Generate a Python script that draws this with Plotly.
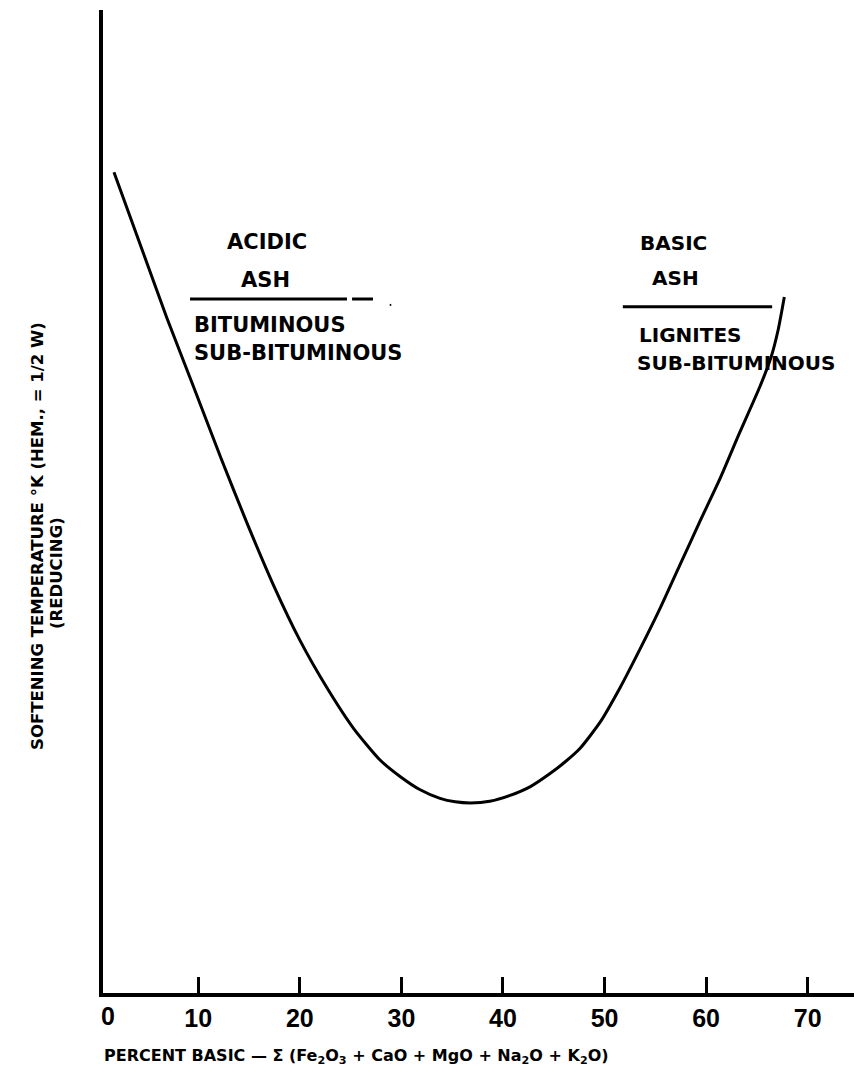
import plotly.graph_objects as go

# Ash softening temperature vs. percent basic oxides
percent_basic = [1.7, 4.3, 6.9, 9.6, 12.2, 14.8, 17.4, 20.0, 22.7, 25.3,
                 27.9, 29.9, 31.8, 33.8, 35.3, 36.8, 38.7, 40.7, 42.7, 44.6,
                 46.1, 47.6, 49.6, 51.5, 53.5, 55.5, 57.4, 59.4, 61.4, 63.3,
                 65.3, 66.4, 67.1, 67.7]
softening_temp = [83.5, 76.1, 68.7, 61.5, 54.5, 47.8, 41.5, 35.9, 31.0, 26.9,
                  23.7, 22.0, 20.7, 19.8, 19.45, 19.33, 19.5, 20.1, 21.0, 22.3,
                  23.5, 24.9, 27.6, 31.0, 35.0, 39.2, 43.5, 48.0, 52.4, 57.0,
                  61.7, 64.7, 67.5, 70.8]

tick_values = [10, 20, 30, 40, 50, 60, 70]
tick_labels = ["10", "20", "30", "40", "50", "60", "70"]


def label_font(size):
    return dict(family="DejaVu Sans", size=size, color="black", weight="bold")


fig = go.Figure()
fig.add_trace(go.Scatter(
    x=percent_basic, y=softening_temp, mode="lines",
    line=dict(color="black", width=3, shape="spline", smoothing=0.6),
    showlegend=False, hoverinfo="skip",
))

# region labels
region_text = [
    ("ACIDIC", 16.77, 76.4, "center", 21),
    ("ASH", 16.57, 72.5, "center", 21),
    ("BITUMINOUS", 9.38, 67.95, "left", 21),
    ("SUB-BITUMINOUS", 9.38, 65.1, "left", 21),
    ("BASIC", 56.74, 76.3, "center", 20),
    ("ASH", 56.94, 72.7, "center", 20),
    ("LIGNITES", 53.2, 66.9, "left", 20),
    ("SUB-BITUMINOUS", 53.0, 64.1, "left", 20),
]
for txt, x, y, anchor, size in region_text:
    fig.add_annotation(x=x, y=y, text=txt, showarrow=False, xanchor=anchor,
                       yanchor="middle", font=label_font(size))

# divider lines under the ash headings
fig.add_shape(type="line", x0=9.19, x1=24.64, y0=70.6, y1=70.6,
              line=dict(color="black", width=3))
fig.add_shape(type="line", x0=25.14, x1=27.2, y0=70.6, y1=70.6,
              line=dict(color="black", width=3))
fig.add_shape(type="line", x0=28.85, x1=29.0, y0=70.0, y1=70.0,
              line=dict(color="black", width=2))
fig.add_shape(type="line", x0=51.8, x1=66.5, y0=69.8, y1=69.8,
              line=dict(color="black", width=3))

# origin label sits just right of the vertical axis
fig.add_annotation(x=1.11, y=0.067, xref="x", yref="paper", text="0",
                   showarrow=False, xanchor="center", yanchor="middle",
                   font=dict(family="Liberation Sans", size=25, color="black", weight="bold"))

# axis titles
fig.add_annotation(x=37 / 854, y=(1089 - 536) / 1089, xref="paper", yref="paper",
                   text="SOFTENING TEMPERATURE °K (HEM., = 1/2 W)", textangle=-90,
                   showarrow=False, xanchor="center", yanchor="middle",
                   font=label_font(16.5))
fig.add_annotation(x=56 / 854, y=(1089 - 573) / 1089, xref="paper", yref="paper",
                   text="(REDUCING)", textangle=-90,
                   showarrow=False, xanchor="center", yanchor="middle",
                   font=label_font(16.5))
fig.add_annotation(x=102 / 854, y=(1089 - 1056) / 1089, xref="paper", yref="paper",
                   text="PERCENT BASIC — Σ (Fe<sub>2</sub>O<sub>3</sub> + CaO + MgO + "
                        "Na<sub>2</sub>O + K<sub>2</sub>O)",
                   showarrow=False, xanchor="left", yanchor="middle",
                   font=label_font(16))

fig.update_layout(
    width=854, height=1089,
    margin=dict(l=0, r=0, t=0, b=0),
    paper_bgcolor="white", plot_bgcolor="white",
    xaxis=dict(
        domain=[102.7 / 854, 1], range=[0.59, 74.56],
        showgrid=False, zeroline=False,
        showline=True, linecolor="black", linewidth=4,
        ticks="inside", ticklen=16, tickwidth=3, tickcolor="black",
        tickvals=tick_values, ticktext=tick_labels,
        ticklabelstandoff=0,
        tickfont=dict(family="Liberation Sans", size=25, color="black", weight="bold"),
    ),
    yaxis=dict(
        domain=[(1089 - 993) / 1089, (1089 - 10) / 1089], range=[0, 100],
        showgrid=False, zeroline=False,
        showline=True, linecolor="black", linewidth=4,
        showticklabels=False, ticks="",
    ),
)

fig.write_html("out.html")
